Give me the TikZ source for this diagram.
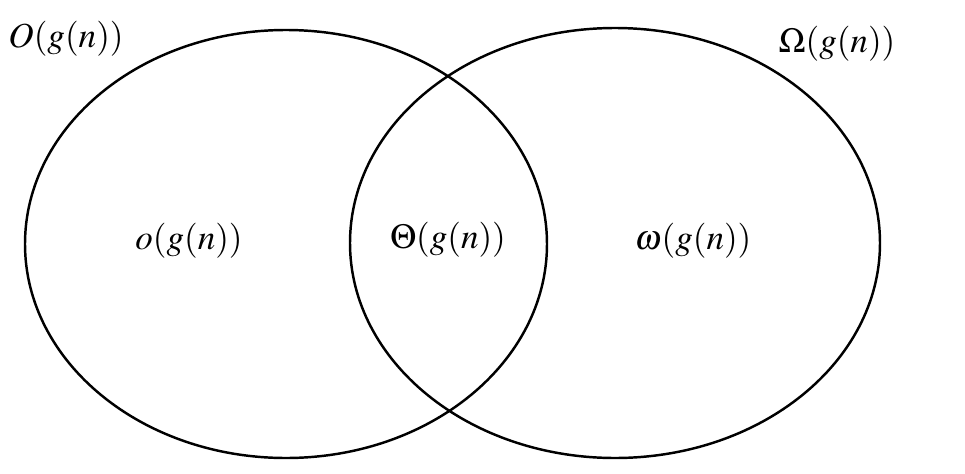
\documentclass[tikz,border=0pt]{standalone}
\usepackage{mathptmx}
\begin{document}
\begin{tikzpicture}[x=0.02cm,y=-0.02cm]
	\tikzset{setlabel/.style={font=\fontsize{20}{24}\selectfont, inner sep=0pt}}
	\useasboundingbox (0,0) rectangle (965,474);

% 1. Hai tập hợp
\draw[line width=1.4pt] (286,244) ellipse [x radius=261, y radius=214];
\draw[line width=1.4pt] (615,243) ellipse [x radius=265, y radius=215];

% 2. Nhãn
\node[setlabel] (bigO) at (66,39) {$O(g(n))$};
\node[setlabel] (bigOmega) at (837,44) {$\Omega(g(n))$};
\node[setlabel] (smallo) at (189,241) {$o(g(n))$};
\node[setlabel] (theta) at (448,240) {$\Theta(g(n))$};
\node[setlabel] (smallomega) at (693,241) {$\omega(g(n))$};
\end{tikzpicture}
\end{document}
